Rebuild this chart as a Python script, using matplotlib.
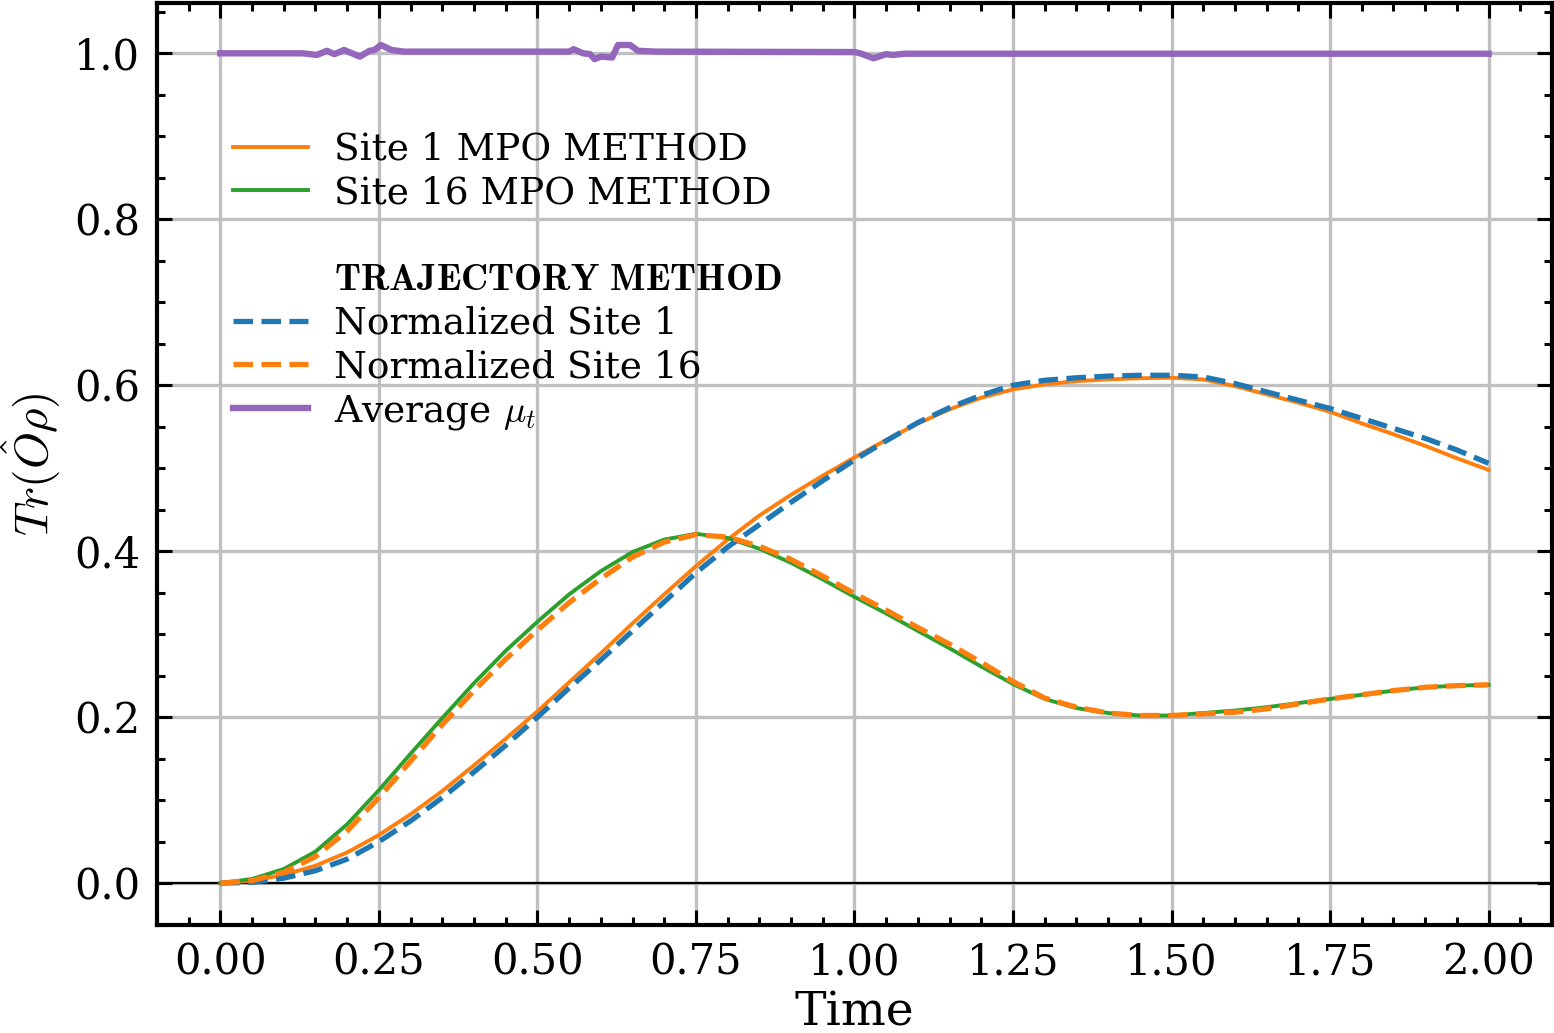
import numpy as np
import matplotlib
matplotlib.use("Agg")
import matplotlib.pyplot as plt
from matplotlib.lines import Line2D

plt.rcParams['font.family'] = ['DejaVu Serif']
plt.rcParams['mathtext.fontset'] = 'cm'
plt.rcParams['font.size'] = 14

# time grid of the curves (read every 0.05)
t = np.round(np.arange(0, 2.0001, 0.05), 2)

# MPO method
site1_mpo = [0.000, 0.003, 0.010, 0.021, 0.037, 0.058, 0.083, 0.111, 0.142, 0.174,
             0.207, 0.242, 0.277, 0.313, 0.348, 0.382, 0.414, 0.443, 0.468, 0.491,
             0.513, 0.534, 0.554, 0.571, 0.585, 0.595, 0.601, 0.605, 0.607, 0.6085,
             0.609, 0.607, 0.599, 0.589, 0.579, 0.568, 0.554, 0.541, 0.527, 0.512,
             0.498]
site16_mpo = [0.000, 0.005, 0.017, 0.038, 0.071, 0.112, 0.156, 0.199, 0.241, 0.280,
              0.315, 0.348, 0.376, 0.399, 0.414, 0.421, 0.416, 0.403, 0.386, 0.366,
              0.345, 0.325, 0.304, 0.283, 0.261, 0.240, 0.222, 0.211, 0.205, 0.202,
              0.202, 0.205, 0.208, 0.212, 0.217, 0.222, 0.227, 0.232, 0.236, 0.238,
              0.239]

# trajectory method
site1_traj = [0.000, 0.001, 0.006, 0.015, 0.029, 0.050, 0.075, 0.103, 0.134, 0.166,
              0.200, 0.235, 0.269, 0.304, 0.339, 0.374, 0.405, 0.432, 0.459, 0.485,
              0.510, 0.533, 0.555, 0.573, 0.588, 0.600, 0.606, 0.609, 0.611, 0.612,
              0.612, 0.610, 0.602, 0.592, 0.582, 0.572, 0.560, 0.548, 0.536, 0.522,
              0.506]
site16_traj = [0.000, 0.003, 0.013, 0.032, 0.063, 0.103, 0.147, 0.191, 0.232, 0.270,
               0.305, 0.338, 0.367, 0.393, 0.411, 0.420, 0.417, 0.406, 0.390, 0.370,
               0.349, 0.329, 0.308, 0.288, 0.266, 0.243, 0.223, 0.212, 0.205, 0.202,
               0.202, 0.204, 0.206, 0.210, 0.216, 0.222, 0.227, 0.232, 0.236, 0.238,
               0.239]

# average mu_t
t_mu = [0.0, 0.13, 0.152, 0.168, 0.18, 0.195, 0.22, 0.235, 0.243, 0.253, 0.27, 0.29,
        0.55, 0.557, 0.572, 0.583, 0.59, 0.60, 0.618, 0.627, 0.646, 0.659, 0.688,
        1.0, 1.009, 1.03, 1.05, 1.06, 1.08, 2.0]
mu = [1.0, 1.0, 0.998, 1.003, 0.999, 1.004, 0.996, 1.003, 1.004, 1.010, 1.004, 1.002,
      1.002, 1.005, 1.0, 0.999, 0.993, 0.996, 0.995, 1.010, 1.010, 1.003, 1.002,
      1.0015, 1.0, 0.994, 0.999, 0.998, 0.9995, 0.9995]

fig, ax = plt.subplots(figsize=(7.77, 5.165), dpi=200)
fig.subplots_adjust(left=0.101, right=0.9987, top=0.997, bottom=0.1045)

ax.axhline(0, color='black', lw=0.8, zorder=1)
l1, = ax.plot(t, site1_mpo, color='#ff7f0e', lw=1.4, label='Site 1 MPO METHOD')
l2, = ax.plot(t, site16_mpo, color='#2ca02c', lw=1.4, label='Site 16 MPO METHOD')
l3, = ax.plot(t, site1_traj, color='#1f77b4', lw=1.9, ls='--', label='Normalized Site 1')
l4, = ax.plot(t, site16_traj, color='#ff7f0e', lw=1.9, ls='--', label='Normalized Site 16')
l5, = ax.plot(t_mu, mu, color='#9467bd', lw=2.3, label=r'Average $\mu_t$')

blank = Line2D([], [], color='none')
handles = [l1, l2, blank, blank, l3, l4, l5]
labels = ['Site 1 MPO METHOD', 'Site 16 MPO METHOD', '', r'$\bf{TRAJECTORY\ METHOD}$',
          'Normalized Site 1', 'Normalized Site 16', r'Average $\mu_t$']
ax.legend(handles, labels, loc='upper left', bbox_to_anchor=(0.03, 0.897),
          frameon=False, fontsize=13.5, handlelength=2.0, handletextpad=0.7,
          labelspacing=0.2)

ax.set_xlabel('Time', fontsize=17, labelpad=2.5)
ax.set_ylabel(r'$Tr(\hat{O}\rho)$', fontsize=17)
ax.set_xticks([0, 0.25, 0.5, 0.75, 1.0, 1.25, 1.5, 1.75, 2.0])
ax.set_yticks([0, 0.2, 0.4, 0.6, 0.8, 1.0])
ax.xaxis.set_major_formatter(matplotlib.ticker.FormatStrFormatter('%.2f'))
ax.yaxis.set_major_formatter(matplotlib.ticker.FormatStrFormatter('%.1f'))
ax.xaxis.set_minor_locator(matplotlib.ticker.MultipleLocator(0.05))
ax.yaxis.set_minor_locator(matplotlib.ticker.MultipleLocator(0.05))
ax.tick_params(which='both', direction='in', top=True, right=True, width=1.1,
               labelsize=15)
ax.tick_params(which='major', length=5.5, pad=6)
ax.tick_params(which='minor', length=3)
for s in ax.spines.values():
    s.set_linewidth(1.5)
ax.grid(True, which='major', color='#c0c0c0', lw=1.2)
ax.set_axisbelow(True)

fig.savefig('out.png', dpi=200)
